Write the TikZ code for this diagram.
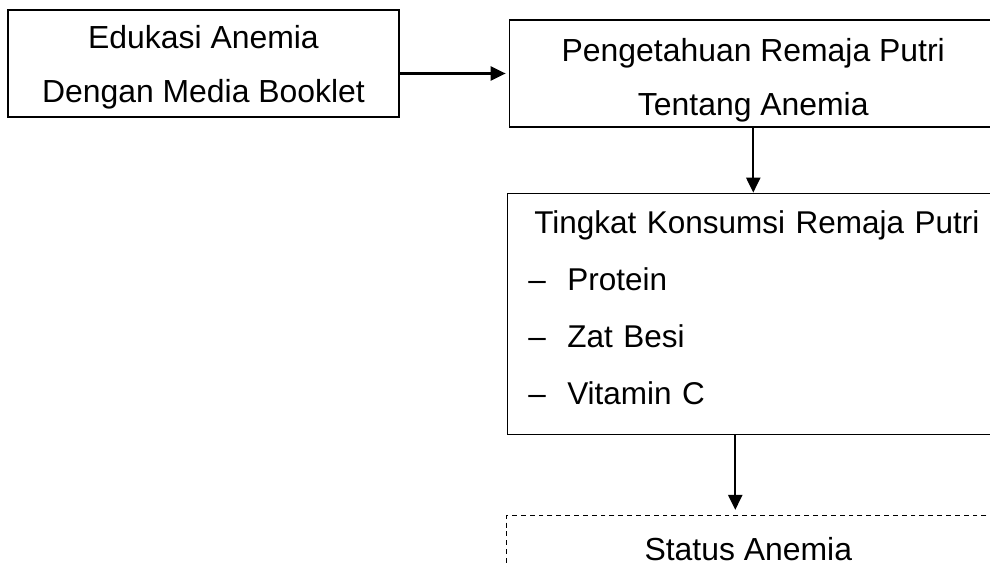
\documentclass[tikz,border=0pt]{standalone}
\usepackage{fontspec}
\setmainfont{Liberation Sans}
\usetikzlibrary{shapes,arrows.meta,positioning}

\tikzset{
  kotak/.style={draw, rectangle, line width=0.9pt, inner ysep=0pt, font=\fontsize{22.7pt}{39.1pt}\selectfont},
  panah/.style={-{Triangle[length=0.375cm,width=0.35cm]}, line width=1.6pt}
}

\begin{document}
\begin{tikzpicture}
\useasboundingbox (-5.0875,1.5875) rectangle (19.6625,-12.5625);

% Edukasi
\node[kotak, minimum width=9.775cm, text height=2.325cm, text depth=0.35cm, align=center] (edukasi) at (0,0) {
Edukasi Anemia \\
Dengan Media Booklet
};

% Pengetahuan
\node[kotak, minimum width=12.2cm, text height=2.4cm, text depth=0.275cm, align=center, right=2.725cm of edukasi, yshift=-0.25cm] (pengetahuan) {
Pengetahuan Remaja Putri \\
Tentang Anemia
};

% Tingkat konsumsi
\node[kotak, inner xsep=0.675cm, text width=11.5cm, text height=1cm, text depth=5.025cm, align=left, font=\fontsize{22.4pt}{40.5pt}\selectfont, below=1.625cm of pengetahuan.south west, anchor=north west, xshift=-0.05cm] (tingkat) {
Tingkat Konsumsi Remaja Putri \\
\hspace*{-0.15cm}\makebox[0.975cm][l]{--}Protein \\
\hspace*{-0.15cm}\makebox[0.975cm][l]{--}Zat Besi \\
\hspace*{-0.15cm}\makebox[0.975cm][l]{--}Vitamin C
};

% Status
\node[kotak, dash pattern=on 3.5pt off 2.8pt, minimum width=12.1cm, text height=1.125cm, text depth=0.625cm, below=2cm of tingkat.south west, anchor=north west, xshift=-0.025cm] (status) {Status Anemia};

% panah
\draw[panah, shorten >=0.075cm] (edukasi.east |- pengetahuan.west) -- (pengetahuan.west);
\draw[panah] (pengetahuan.south) -- (pengetahuan.south |- tingkat.north);
\draw[panah, shorten >=0.125cm] ([xshift=-0.325cm]status.north |- tingkat.south) -- ([xshift=-0.325cm]status.north);
\end{tikzpicture}
\end{document}
